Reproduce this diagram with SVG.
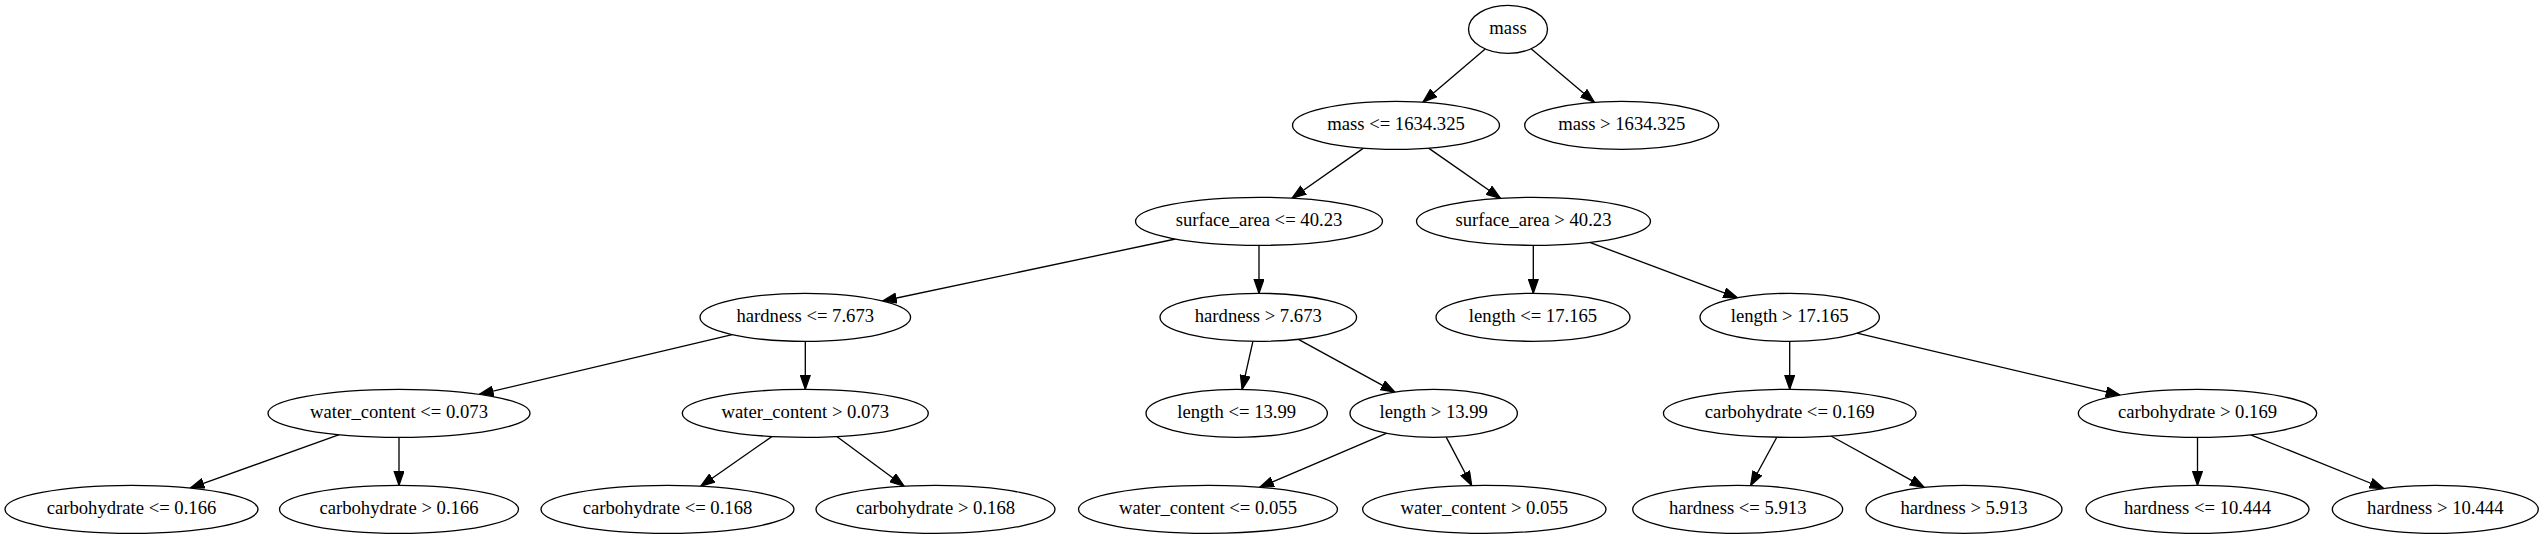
<svg xmlns="http://www.w3.org/2000/svg" width="2545" height="539" viewBox="0 0 2545 539">
<style>
ellipse{fill:#fff;stroke:#000;stroke-width:1.33}
text{font-family:"Liberation Serif","Times New Roman",serif;font-size:18.67px;text-anchor:middle;fill:#000}
.e line{stroke:#000;stroke-width:1.33;fill:none;marker-end:url(#ah)}
</style>
<defs>
<marker id="ah" markerUnits="userSpaceOnUse" markerWidth="15" markerHeight="11" refX="13.33" refY="4.67" orient="auto" viewBox="-0.5 -0.5 14.5 10.5">
<path d="M0,0 L13.33,4.67 L0,9.33 z" fill="#000" stroke="#000" stroke-width="1.2"/>
</marker>
</defs>
<rect width="2545" height="539" fill="#fff"/>
<g class="e" id="edges">
<line x1="1485.2" y1="48.9" x2="1423" y2="102.1"/>
<line x1="1531.1" y1="48.8" x2="1594.4" y2="102.3"/>
<line x1="1363.5" y1="148.1" x2="1292" y2="198.2"/>
<line x1="1428.6" y1="148.1" x2="1500.5" y2="198.3"/>
<line x1="1175.5" y1="239" x2="882.5" y2="301"/>
<line x1="1259" y1="245.3" x2="1259" y2="293.3"/>
<line x1="1533.3" y1="245.3" x2="1533.3" y2="293.3"/>
<line x1="1589.7" y1="242.4" x2="1737.6" y2="297.8"/>
<line x1="732.2" y1="334.6" x2="479.3" y2="394.4"/>
<line x1="805.3" y1="341.3" x2="805.3" y2="389.3"/>
<line x1="1252.9" y1="341.3" x2="1242.1" y2="389.4"/>
<line x1="1298.4" y1="339.3" x2="1394.9" y2="392.1"/>
<line x1="1789.7" y1="341.3" x2="1789.7" y2="389.3"/>
<line x1="1857" y1="333.2" x2="2120" y2="395.1"/>
<line x1="339.3" y1="434.7" x2="190.2" y2="488.1"/>
<line x1="399" y1="437.3" x2="399" y2="485.3"/>
<line x1="772.1" y1="436.4" x2="700.7" y2="486.2"/>
<line x1="836.8" y1="436.5" x2="904.1" y2="486.2"/>
<line x1="1386.9" y1="433.2" x2="1259.7" y2="487.3"/>
<line x1="1446.2" y1="437.1" x2="1471.7" y2="485.5"/>
<line x1="1776.8" y1="437.2" x2="1750.6" y2="485.5"/>
<line x1="1830.9" y1="436" x2="1924.2" y2="487.4"/>
<line x1="2197.5" y1="437.3" x2="2197.5" y2="485.3"/>
<line x1="2250.7" y1="434.8" x2="2383.8" y2="488.5"/>
</g>
<g id="n0"><ellipse cx="1508" cy="29.33" rx="39.5" ry="24"/><text x="1508" y="34.3">mass</text></g>
<g id="n1"><ellipse cx="1396" cy="125.33" rx="103.5" ry="24"/><text x="1396" y="130.3">mass &lt;= 1634.325</text></g>
<g id="n2"><ellipse cx="1621.7" cy="125.33" rx="97" ry="24"/><text x="1621.7" y="130.3">mass &gt; 1634.325</text></g>
<g id="n3"><ellipse cx="1259" cy="221.33" rx="123.5" ry="24"/><text x="1259" y="226.3">surface_area &lt;= 40.23</text></g>
<g id="n4"><ellipse cx="1533.5" cy="221.33" rx="117" ry="24"/><text x="1533.5" y="226.3">surface_area &gt; 40.23</text></g>
<g id="n5"><ellipse cx="805.3" cy="317.33" rx="105.3" ry="24"/><text x="805.3" y="322.3">hardness &lt;= 7.673</text></g>
<g id="n6"><ellipse cx="1258.3" cy="317.33" rx="98.3" ry="24"/><text x="1258.3" y="322.3">hardness &gt; 7.673</text></g>
<g id="n7"><ellipse cx="1533" cy="317.33" rx="97" ry="24"/><text x="1533" y="322.3">length &lt;= 17.165</text></g>
<g id="n8"><ellipse cx="1789.7" cy="317.33" rx="89.7" ry="24"/><text x="1789.7" y="322.3">length &gt; 17.165</text></g>
<g id="n9"><ellipse cx="399" cy="413.33" rx="131" ry="24"/><text x="399" y="418.3">water_content &lt;= 0.073</text></g>
<g id="n10"><ellipse cx="805.3" cy="413.33" rx="123" ry="24"/><text x="805.3" y="418.3">water_content &gt; 0.073</text></g>
<g id="n11"><ellipse cx="1236.7" cy="413.33" rx="90.7" ry="24"/><text x="1236.7" y="418.3">length &lt;= 13.99</text></g>
<g id="n12"><ellipse cx="1433.7" cy="413.33" rx="83.7" ry="24"/><text x="1433.7" y="418.3">length &gt; 13.99</text></g>
<g id="n13"><ellipse cx="1789.7" cy="413.33" rx="126.3" ry="24"/><text x="1789.7" y="418.3">carbohydrate &lt;= 0.169</text></g>
<g id="n14"><ellipse cx="2197.5" cy="413.33" rx="119.2" ry="24"/><text x="2197.5" y="418.3">carbohydrate &gt; 0.169</text></g>
<g id="n15"><ellipse cx="131.5" cy="509.33" rx="126.5" ry="24"/><text x="131.5" y="514.3">carbohydrate &lt;= 0.166</text></g>
<g id="n16"><ellipse cx="399" cy="509.33" rx="119.5" ry="24"/><text x="399" y="514.3">carbohydrate &gt; 0.166</text></g>
<g id="n17"><ellipse cx="667.5" cy="509.33" rx="126.5" ry="24"/><text x="667.5" y="514.3">carbohydrate &lt;= 0.168</text></g>
<g id="n18"><ellipse cx="935.5" cy="509.33" rx="119.5" ry="24"/><text x="935.5" y="514.3">carbohydrate &gt; 0.168</text></g>
<g id="n19"><ellipse cx="1208" cy="509.33" rx="129.5" ry="24"/><text x="1208" y="514.3">water_content &lt;= 0.055</text></g>
<g id="n20"><ellipse cx="1484.3" cy="509.33" rx="121.7" ry="24"/><text x="1484.3" y="514.3">water_content &gt; 0.055</text></g>
<g id="n21"><ellipse cx="1737.7" cy="509.33" rx="105" ry="24"/><text x="1737.7" y="514.3">hardness &lt;= 5.913</text></g>
<g id="n22"><ellipse cx="1964" cy="509.33" rx="98" ry="24"/><text x="1964" y="514.3">hardness &gt; 5.913</text></g>
<g id="n23"><ellipse cx="2197.5" cy="509.33" rx="111.5" ry="24"/><text x="2197.5" y="514.3">hardness &lt;= 10.444</text></g>
<g id="n24"><ellipse cx="2435.3" cy="509.33" rx="103" ry="24"/><text x="2435.3" y="514.3">hardness &gt; 10.444</text></g>
</svg>
